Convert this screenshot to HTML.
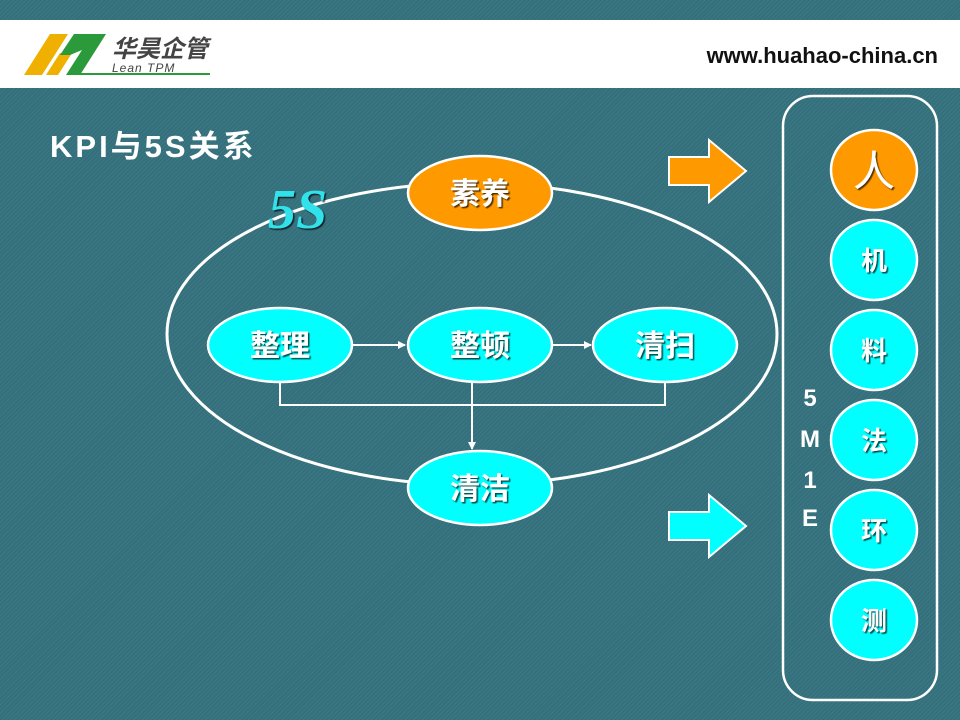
<!DOCTYPE html>
<html><head><meta charset="utf-8"><style>
body{margin:0;width:960px;height:720px;overflow:hidden;background:#33707c;
background-image:repeating-linear-gradient(135deg,rgba(255,255,255,0.05) 0 1px,transparent 1px 3px);}
svg{position:absolute;left:0;top:0}
text{font-family:"Liberation Sans","Noto Sans CJK SC",sans-serif;}
</style></head><body>
<svg width="960" height="720" viewBox="0 0 960 720">
<defs>
<marker id="a" markerWidth="8" markerHeight="8" refX="7" refY="4" orient="auto" markerUnits="userSpaceOnUse"><path d="M0,0 L8,4 L0,8z" fill="#fff"/></marker>
<filter id="s"><feDropShadow dx="1.5" dy="1.5" stdDeviation="0.5" flood-color="#000" flood-opacity="0.7"/></filter>
</defs>
<rect x="0" y="20" width="960" height="68" fill="#fff"/>
<polygon points="24,75 50,34 68,34 42,75" fill="#f0b000"/>
<polygon points="46,75 60,53 72,53 58,75" fill="#f0b000"/>
<polygon points="60,55 74,34 106,34 80,75 66,75 82,50 70,55" fill="#2a9a3a"/>
<line x1="80" y1="74" x2="210" y2="74" stroke="#2a9a3a" stroke-width="2"/>
<text x="112" y="57" font-size="24" font-weight="bold" fill="#444" font-style="italic">华昊企管</text>
<text x="112" y="72" font-size="12" fill="#444" font-family="Liberation Serif" font-style="italic" letter-spacing="1">Lean TPM</text>
<text x="938" y="63" font-size="22" font-weight="bold" fill="#111" text-anchor="end">www.huahao-china.cn</text>
<text x="50" y="157" font-size="31" font-weight="bold" fill="#fff" letter-spacing="3">KPI与5S关系</text>
<ellipse cx="472" cy="334" rx="305" ry="151" fill="none" stroke="#fff" stroke-width="3"/>
<text x="268" y="228" font-size="56" font-weight="bold" font-style="italic" fill="#33e2ea" style="font-family:'Liberation Serif',serif" filter="url(#s)">5S</text>
<g stroke="#fff" stroke-width="2" fill="none">
<polyline points="280,382 280,405 665,405 665,382"/>
<line x1="472" y1="382" x2="472" y2="449" marker-end="url(#a)"/>
<line x1="352" y1="345" x2="405" y2="345" marker-end="url(#a)"/>
<line x1="552" y1="345" x2="591" y2="345" marker-end="url(#a)"/>
</g>
<g stroke="#fff" stroke-width="2.5">
<ellipse cx="480" cy="193" rx="72" ry="37" fill="#ff9900"/>
<ellipse cx="280" cy="345" rx="72" ry="37" fill="#00ffff"/>
<ellipse cx="480" cy="345" rx="72" ry="37" fill="#00ffff"/>
<ellipse cx="665" cy="345" rx="72" ry="37" fill="#00ffff"/>
<ellipse cx="480" cy="488" rx="72" ry="37" fill="#00ffff"/>
</g>
<g font-size="30" font-weight="bold" fill="#fff" text-anchor="middle" filter="url(#s)">
<text x="480" y="204">素养</text><text x="280" y="356">整理</text><text x="480" y="356">整顿</text><text x="665" y="356">清扫</text><text x="480" y="499">清洁</text>
</g>
<polygon points="669,157 709,157 709,140 746,171 709,202 709,185 669,185" fill="#ff9900" stroke="#fff" stroke-width="2"/>
<polygon points="669,512 709,512 709,495 746,526 709,557 709,540 669,540" fill="#00ffff" stroke="#fff" stroke-width="2"/>
<rect x="783" y="96" width="154" height="604" rx="30" fill="none" stroke="#fff" stroke-width="2.5"/>
<g stroke="#fff" stroke-width="2.5">
<ellipse cx="874" cy="170" rx="43" ry="40" fill="#ff9900"/>
<ellipse cx="874" cy="260" rx="43" ry="40" fill="#00ffff"/>
<ellipse cx="874" cy="350" rx="43" ry="40" fill="#00ffff"/>
<ellipse cx="874" cy="440" rx="43" ry="40" fill="#00ffff"/>
<ellipse cx="874" cy="530" rx="43" ry="40" fill="#00ffff"/>
<ellipse cx="874" cy="620" rx="43" ry="40" fill="#00ffff"/>
</g>
<g font-size="26" fill="#fff" text-anchor="middle" filter="url(#s)" font-weight="bold">
<text x="874" y="186" font-size="42" font-weight="normal">人</text>
<text x="874" y="270">机</text><text x="874" y="360">料</text><text x="874" y="450">法</text><text x="874" y="540">环</text><text x="874" y="630">测</text>
</g>
<g font-size="24" font-weight="bold" fill="#fff" text-anchor="middle">
<text x="810" y="406">5</text><text x="810" y="447">M</text><text x="810" y="488">1</text><text x="810" y="526">E</text>
</g>
</svg>
</body></html>
